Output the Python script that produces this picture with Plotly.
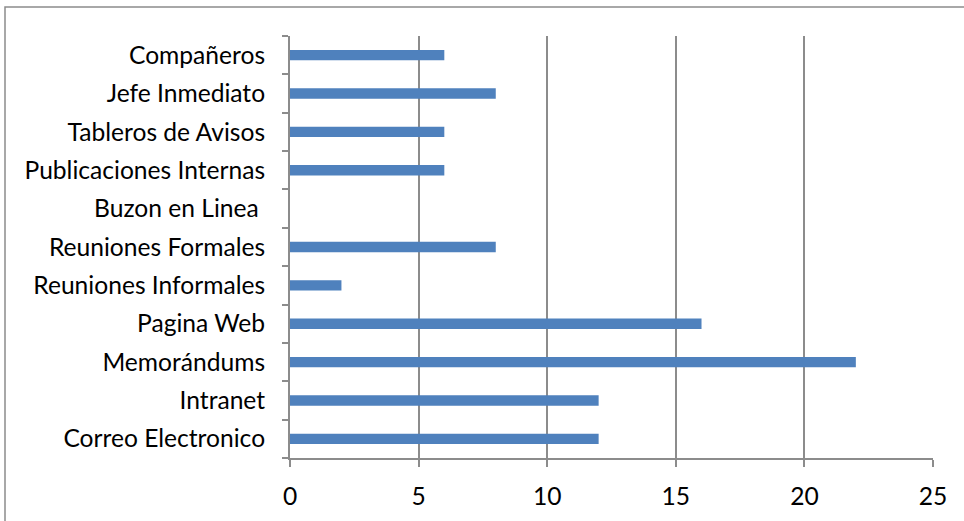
import plotly.graph_objects as go

# Communication channels (bottom to top) and how many respondents chose each
categories = [
    "Correo Electronico",
    "Intranet",
    "Memorándums",
    "Pagina Web",
    "Reuniones Informales",
    "Reuniones Formales",
    "Buzon en Linea ",
    "Publicaciones Internas",
    "Tableros de Avisos",
    "Jefe Inmediato",
    "Compañeros",
]
values = [12, 12, 22, 16, 2, 8, 0, 6, 6, 8, 6]
x_ticks = [0, 5, 10, 15, 20, 25]

W, H = 964, 521
L, R, T, B = 290, 31, 36, 63

fig = go.Figure(
    go.Bar(
        x=values,
        y=categories,
        orientation="h",
        marker=dict(color="#4f81bd", line=dict(width=0)),
        hoverinfo="x+y",
    )
)

grid = "#8c8c8c"
fs = 24.6
fig.update_layout(
    width=W,
    height=H,
    margin=dict(l=L, r=R, t=T, b=B, pad=0),
    paper_bgcolor="white",
    plot_bgcolor="white",
    bargap=0.73,
    showlegend=False,
    font=dict(family="Lato, Open Sans, sans-serif", size=fs, color="black"),
    xaxis=dict(
        range=[0, 25],
        tickvals=x_ticks,
        ticks="outside",
        ticklen=7,
        tickwidth=2,
        tickcolor=grid,
        showgrid=True,
        gridcolor=grid,
        gridwidth=2,
        zeroline=False,
        showline=True,
        linecolor=grid,
        linewidth=2,
        ticklabelstandoff=8,
        tickfont=dict(size=fs),
        fixedrange=True,
    ),
    yaxis=dict(
        type="category",
        categoryorder="array",
        categoryarray=categories,
        tickson="boundaries",
        ticks="outside",
        ticklen=6,
        tickwidth=2,
        tickcolor=grid,
        showgrid=False,
        showline=True,
        linecolor=grid,
        linewidth=2,
        ticklabelstandoff=18,
        tickfont=dict(size=fs),
        fixedrange=True,
    ),
)

# Chart-area frame (left and top edges visible)
pw, ph = W - L - R, H - T - B
fig.add_shape(
    type="rect",
    xref="paper",
    yref="paper",
    x0=(5 - L) / pw,
    x1=1 + (R + 20) / pw,
    y0=-(B + 20) / ph,
    y1=1 + (T - 7) / ph,
    line=dict(color="#8c8c8c", width=1.5),
    fillcolor="rgba(0,0,0,0)",
    layer="below",
)

fig.write_html("out.html")
